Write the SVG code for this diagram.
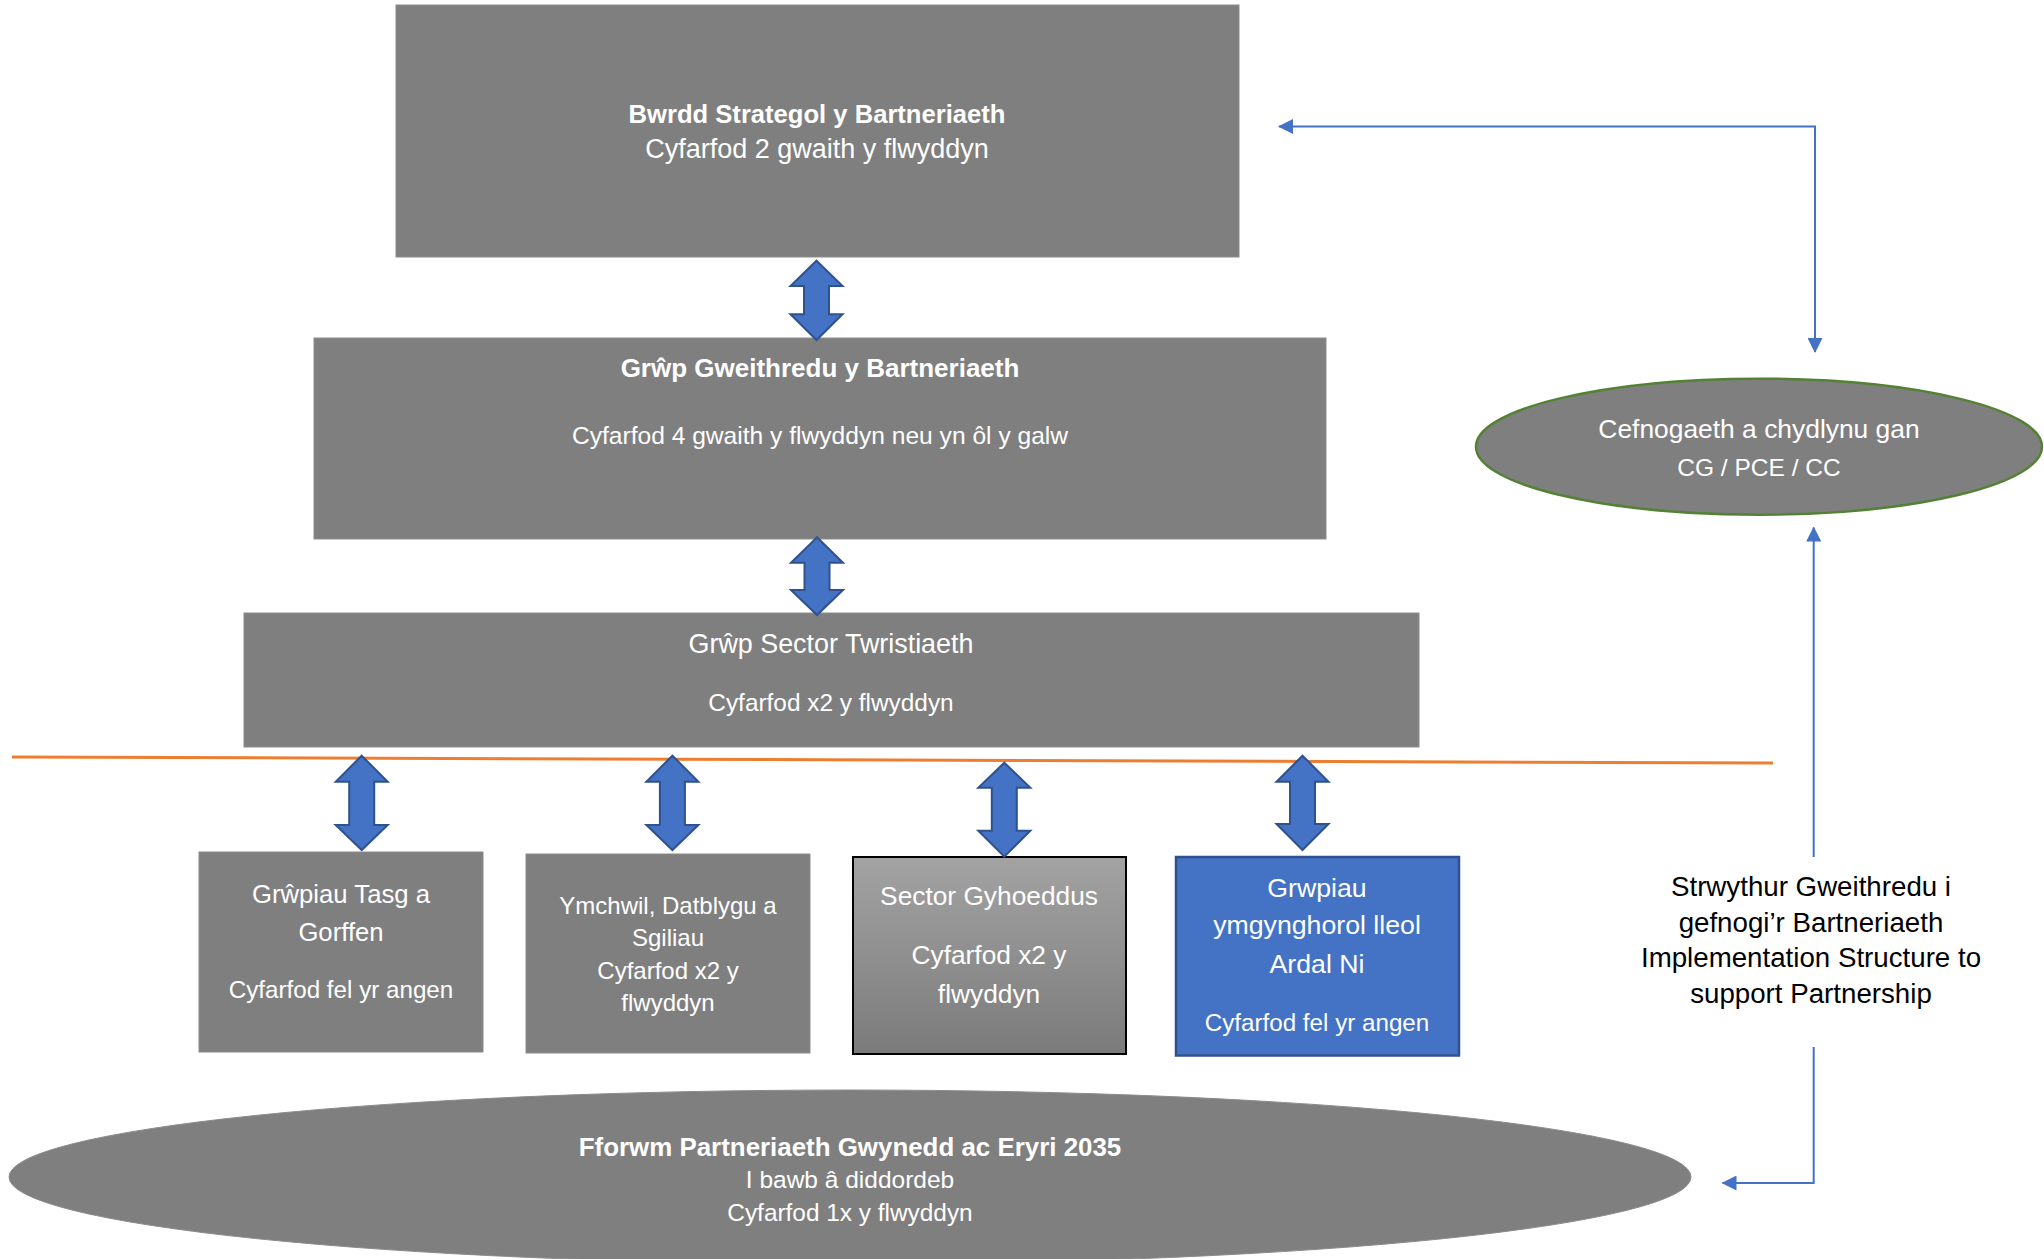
<svg xmlns="http://www.w3.org/2000/svg" width="2044" height="1259" viewBox="0 0 2044 1259">
<style>
.box{fill:#7f7f7f;stroke:#8c8c8c;stroke-width:1}
.t{font-family:"Liberation Sans",Arial,sans-serif;fill:#ffffff;text-anchor:middle}
.b{font-weight:bold}
.k{font-family:"Liberation Sans",Arial,sans-serif;fill:#000000;text-anchor:middle}
.blk{fill:#4472C4;stroke:#2F528F;stroke-width:2;stroke-linejoin:miter}
.thin{fill:none;stroke:#4472C4;stroke-width:2}
</style>
<defs>
<linearGradient id="grayGrad" x1="0" y1="0" x2="0" y2="1">
<stop offset="0" stop-color="#a3a3a3"/>
<stop offset="1" stop-color="#7b7b7b"/>
</linearGradient>
<marker id="ah" viewBox="0 0 15 15" refX="14" refY="7.5" markerUnits="userSpaceOnUse" markerWidth="15" markerHeight="15" orient="auto-start-reverse">
<path d="M0,0 L15,7.5 L0,15 Z" fill="#4472C4"/>
</marker>
</defs>

<g id="separator">
<line x1="12" y1="757" x2="1773" y2="763" stroke="#ED7D31" stroke-width="3"/>
</g>

<g id="node-bwrdd">
<rect class="box" x="396" y="5" width="843" height="252"/>
<text class="t b" x="817" y="123" font-size="25.6">Bwrdd Strategol y Bartneriaeth</text>
<text class="t" x="817" y="158" font-size="27">Cyfarfod 2 gwaith y flwyddyn</text>
</g>

<g id="node-grwp-gweithredu">
<rect class="box" x="314" y="338" width="1012" height="201"/>
<text class="t b" x="820" y="377" font-size="26">Grŵp Gweithredu y Bartneriaeth</text>
<text class="t" x="820" y="443.5" font-size="24.6">Cyfarfod 4 gwaith y flwyddyn neu yn ôl y galw</text>
</g>

<g id="node-sector-twristiaeth">
<rect class="box" x="244" y="613" width="1175" height="134"/>
<text class="t" x="831" y="652.7" font-size="26.9">Grŵp Sector Twristiaeth</text>
<text class="t" x="831" y="710.7" font-size="24.4">Cyfarfod x2 y flwyddyn</text>
</g>

<g id="node-tasg">
<rect class="box" x="199" y="852" width="284" height="200"/>
<text class="t" x="341" y="902.7" font-size="25.7">Grŵpiau Tasg a</text>
<text class="t" x="341" y="941" font-size="25.7">Gorffen</text>
<text class="t" x="341" y="998.3" font-size="24.2">Cyfarfod fel yr angen</text>
</g>

<g id="node-ymchwil">
<rect class="box" x="526" y="854" width="284" height="199"/>
<text class="t" x="668" y="914.3" font-size="24">Ymchwil, Datblygu a</text>
<text class="t" x="668" y="945.7" font-size="24">Sgiliau</text>
<text class="t" x="668" y="979.3" font-size="24">Cyfarfod x2 y</text>
<text class="t" x="668" y="1010.7" font-size="24">flwyddyn</text>
</g>

<g id="node-sector-gyhoeddus">
<rect x="853" y="857" width="273" height="197" fill="url(#grayGrad)" stroke="#000000" stroke-width="2"/>
<text class="t" x="989" y="905" font-size="26.3">Sector Gyhoeddus</text>
<text class="t" x="989" y="964" font-size="26.3">Cyfarfod x2 y</text>
<text class="t" x="989" y="1003.3" font-size="26.3">flwyddyn</text>
</g>

<g id="node-ardal-ni">
<rect x="1176" y="857" width="283" height="198.5" fill="#4472C4" stroke="#2F528F" stroke-width="2.5"/>
<text class="t" x="1317" y="896.7" font-size="26.7">Grwpiau</text>
<text class="t" x="1317" y="934" font-size="26.7">ymgynghorol lleol</text>
<text class="t" x="1317" y="973.3" font-size="26.7">Ardal Ni</text>
<text class="t" x="1317" y="1031" font-size="24.2">Cyfarfod fel yr angen</text>
</g>

<g id="node-fforwm">
<ellipse cx="850" cy="1177" rx="841" ry="87" fill="#7f7f7f" stroke="#8c8c8c" stroke-width="1"/>
<text class="t b" x="850" y="1155.5" font-size="25.9">Fforwm Partneriaeth Gwynedd ac Eryri 2035</text>
<text class="t" x="850" y="1188.3" font-size="24.5">I bawb â diddordeb</text>
<text class="t" x="850" y="1221" font-size="24.4">Cyfarfod 1x y flwyddyn</text>
</g>

<g id="node-cefnogaeth">
<ellipse cx="1759" cy="446.7" rx="283" ry="68" fill="#7f7f7f" stroke="#548235" stroke-width="2.5"/>
<text class="t" x="1759" y="437.7" font-size="26.4">Cefnogaeth a chydlynu gan</text>
<text class="t" x="1759" y="476" font-size="24.5">CG / PCE / CC</text>
</g>

<g id="node-strwythur">
<text class="k" x="1811" y="896" font-size="27.7">Strwythur Gweithredu i</text>
<text class="k" x="1811" y="932.3" font-size="27.7">gefnogi’r Bartneriaeth</text>
<text class="k" x="1811" y="967.3" font-size="27.7">Implementation Structure to</text>
<text class="k" x="1811" y="1002.7" font-size="27.7">support Partnership</text>
</g>

<g id="connectors">
<path class="blk" d="M816.5,260.7 L842.5,286 L829,286 L829,314.3 L842.5,314.3 L816.5,340 L790.5,314.3 L804,314.3 L804,286 L790.5,286 Z"/>
<path class="blk" d="M817,537.3 L843,562.7 L829.5,562.7 L829.5,590 L843,590 L817,615 L791,590 L804.5,590 L804.5,562.7 L791,562.7 Z"/>
<path class="blk" d="M361.7,755.7 L387.7,781.7 L374.2,781.7 L374.2,825 L387.7,825 L361.7,850 L335.7,825 L349.2,825 L349.2,781.7 L335.7,781.7 Z"/>
<path class="blk" d="M672.4,755.7 L698.4,781.7 L684.9,781.7 L684.9,825 L698.4,825 L672.4,850 L646.4,825 L659.9,825 L659.9,781.7 L646.4,781.7 Z"/>
<path class="blk" d="M1004.3,762.7 L1030.3,787.7 L1016.8,787.7 L1016.8,830.7 L1030.3,830.7 L1004.3,856.7 L978.3,830.7 L991.8,830.7 L991.8,787.7 L978.3,787.7 Z"/>
<path class="blk" d="M1302.5,755.7 L1328.5,781.7 L1315,781.7 L1315,824 L1328.5,824 L1302.5,850 L1276.5,824 L1290,824 L1290,781.7 L1276.5,781.7 Z"/>
<polyline class="thin" points="1279,126.5 1815,126.5 1815,352" marker-start="url(#ah)" marker-end="url(#ah)"/>
<line class="thin" x1="1813.7" y1="857" x2="1813.7" y2="527.5" marker-end="url(#ah)"/>
<polyline class="thin" points="1813.7,1047 1813.7,1183 1722.5,1183" marker-end="url(#ah)"/>
</g>
</svg>
